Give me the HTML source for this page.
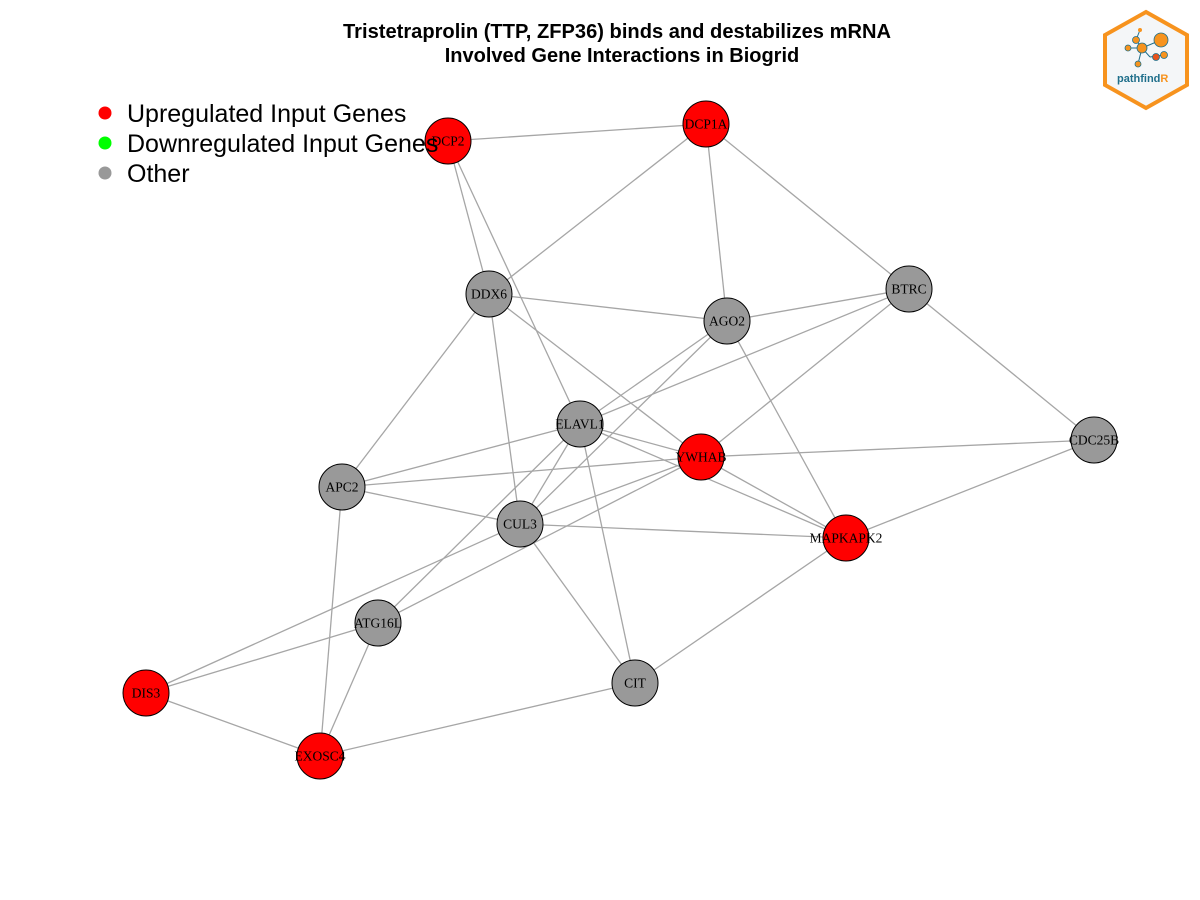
<!DOCTYPE html>
<html><head><meta charset="utf-8">
<style>
body{margin:0;background:#fff;}
svg{display:block;font-family:"Liberation Sans",Arial,sans-serif;}
</style></head>
<body>
<svg id="chart" width="1200" height="900" viewBox="0 0 1200 900">
<text x="617" y="38" text-anchor="middle" font-size="20" font-weight="bold" textLength="548" lengthAdjust="spacingAndGlyphs">Tristetraprolin (TTP, ZFP36) binds and destabilizes mRNA</text>
<text x="622" y="62" text-anchor="middle" font-size="20" font-weight="bold">Involved Gene Interactions in Biogrid</text>
<g id="edges"></g>
<g id="nodes"></g>
<g>
<g><circle cx="105" cy="113" r="6.5" fill="#ff0000"/><text x="127" y="122" font-size="25">Upregulated Input Genes</text></g>
<g><circle cx="105" cy="143" r="6.5" fill="#00ff00"/><text x="127" y="152" font-size="25">Downregulated Input Genes</text></g>
<g><circle cx="105" cy="173" r="6.5" fill="#999999"/><text x="127" y="182" font-size="25">Other</text></g>
</g>
<g>
<polygon points="1146,12 1187,35 1187,85 1146,108 1105,85 1105,35" fill="#f4f6f8" stroke="#f7931e" stroke-width="4"/>
<g stroke="#1f6f8b" stroke-width="1">
<line x1="1128" y1="48" x2="1142" y2="48"/><line x1="1142" y1="48" x2="1161" y2="40"/><line x1="1142" y1="48" x2="1150" y2="57"/><line x1="1142" y1="48" x2="1136" y2="40"/><line x1="1142" y1="48" x2="1138" y2="64"/><line x1="1136" y1="40" x2="1140" y2="30"/><line x1="1150" y1="57" x2="1164" y2="55"/>
</g>
<circle cx="1161" cy="40" r="7" fill="#f7931e" stroke="#1f6f8b" stroke-width="0.8"/>
<circle cx="1142" cy="48" r="5" fill="#f7931e" stroke="#1f6f8b" stroke-width="0.8"/>
<circle cx="1136" cy="40" r="3.5" fill="#f7931e" stroke="#1f6f8b" stroke-width="0.8"/>
<circle cx="1128" cy="48" r="3" fill="#f7931e" stroke="#1f6f8b" stroke-width="0.8"/>
<circle cx="1156" cy="57" r="3.5" fill="#e8541e" stroke="#1f6f8b" stroke-width="0.8"/>
<circle cx="1164" cy="55" r="3.5" fill="#f7931e" stroke="#1f6f8b" stroke-width="0.8"/>
<circle cx="1138" cy="64" r="3" fill="#f7931e" stroke="#1f6f8b" stroke-width="0.8"/>
<circle cx="1140" cy="30" r="2" fill="#f7931e"/>
<text x="1117" y="82" font-size="11" font-weight="bold" fill="#1f6f8b">pathfind<tspan fill="#f7931e">R</tspan></text>
</g>
</svg>
<script>
const nodeNames = ["DCP2","DCP1A","DDX6","AGO2","BTRC","ELAVL1","YWHAB","CDC25B","APC2","CUL3","MAPKAPK2","ATG16L","DIS3","CIT","EXOSC4"];
const nodeX = [448,706,489,727,909,580,701,1094,342,520,846,378,146,635,320];
const nodeY = [141,124,294,321,289,424,457,440,487,524,538,623,693,683,756];
const nodeStatus = ["up","up","other","other","other","other","up","other","other","other","up","other","up","other","up"];
const edgeFrom = ["DCP2","DCP2","DCP2","DCP1A","DCP1A","DCP1A","DDX6","DDX6","DDX6","DDX6","BTRC","BTRC","BTRC","BTRC","AGO2","AGO2","AGO2","ELAVL1","ELAVL1","ELAVL1","ELAVL1","ELAVL1","ELAVL1","YWHAB","YWHAB","YWHAB","YWHAB","YWHAB","APC2","APC2","CUL3","CUL3","CUL3","MAPKAPK2","MAPKAPK2","ATG16L","ATG16L","DIS3","EXOSC4"];
const edgeTo = ["DCP1A","DDX6","ELAVL1","DDX6","AGO2","BTRC","AGO2","APC2","CUL3","YWHAB","AGO2","CDC25B","ELAVL1","YWHAB","ELAVL1","CUL3","MAPKAPK2","YWHAB","APC2","CUL3","CIT","MAPKAPK2","ATG16L","CDC25B","APC2","CUL3","MAPKAPK2","ATG16L","CUL3","EXOSC4","MAPKAPK2","CIT","DIS3","CDC25B","CIT","DIS3","EXOSC4","EXOSC4","CIT"];
const colors = {up:"#ff0000",down:"#00ff00",other:"#999999"};
const NS="http://www.w3.org/2000/svg";
const eg=document.getElementById("edges"), ng=document.getElementById("nodes");
const idx = n => nodeNames.indexOf(n);
edgeFrom.forEach((f,i)=>{
  const a=idx(f), b=idx(edgeTo[i]);
  const l=document.createElementNS(NS,"line");
  l.setAttribute("x1",nodeX[a]);l.setAttribute("y1",nodeY[a]);
  l.setAttribute("x2",nodeX[b]);l.setAttribute("y2",nodeY[b]);
  l.setAttribute("stroke","#a6a6a6");l.setAttribute("stroke-width","1.3");
  
  
  eg.appendChild(l);
});
nodeNames.forEach((n,i)=>{
  const g=document.createElementNS(NS,"g");
  
  
  const c=document.createElementNS(NS,"circle");
  c.setAttribute("cx",nodeX[i]);c.setAttribute("cy",nodeY[i]);c.setAttribute("r",23);
  c.setAttribute("fill",colors[nodeStatus[i]]);c.setAttribute("stroke","#000");c.setAttribute("stroke-width","1");
  const t=document.createElementNS(NS,"text");
  t.setAttribute("x",nodeX[i]);t.setAttribute("y",nodeY[i]+4.5);
  t.setAttribute("text-anchor","middle");t.setAttribute("font-size","13.5");
  t.setAttribute("font-family","Liberation Serif, serif");
  t.textContent=n;
  g.appendChild(c);g.appendChild(t);ng.appendChild(g);
});
</script>
</body></html>
